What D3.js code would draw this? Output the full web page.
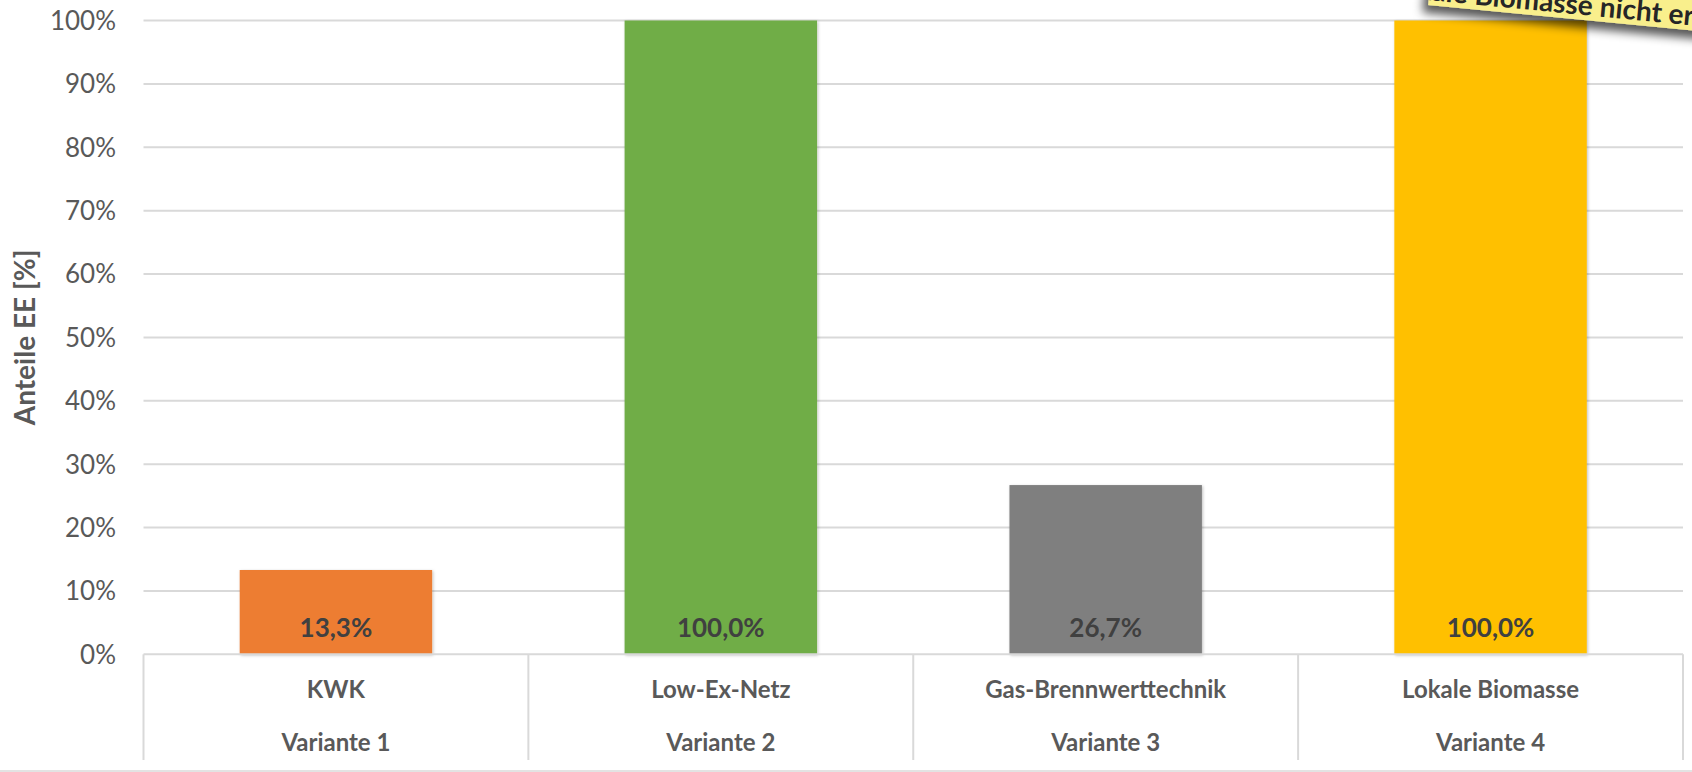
<!DOCTYPE html>
<html>
<head>
<meta charset="utf-8">
<script src="https://cdn.jsdelivr.net/npm/d3@7"></script>
<style>
  body { margin: 0; background: #fff; }
  svg { display: block; font-family: Lato, "Open Sans", sans-serif; }
</style>
</head>
<body>
<div id="chart"></div>
<script>
var width = 1692,
    height = 772;

// data
var categories = ["KWK", "Low-Ex-Netz", "Gas-Brennwerttechnik", "Lokale Biomasse"];
var variants = ["Variante 1", "Variante 2", "Variante 3", "Variante 4"];
var shares = [0.133, 1.0, 0.267, 1.0];
var colors = ["#ED7D31", "#70AD47", "#7F7F7F", "#FFC000"];
var ticks = [0, 0.1, 0.2, 0.3, 0.4, 0.5, 0.6, 0.7, 0.8, 0.9, 1.0];

var svg = d3.select("#chart").append("svg")
    .attr("width", width)
    .attr("height", height);

var defs = svg.append("defs");
defs.append("filter").attr("id", "barShadow")
    .attr("x", "-10%").attr("y", "-10%").attr("width", "120%").attr("height", "120%")
  .append("feDropShadow")
    .attr("dx", 1).attr("dy", 1).attr("stdDeviation", 1.5)
    .attr("flood-color", "#000").attr("flood-opacity", 0.25);
defs.append("filter").attr("id", "noteShadow")
    .attr("x", "-20%").attr("y", "-50%").attr("width", "140%").attr("height", "200%")
  .append("feDropShadow")
    .attr("dx", -5).attr("dy", 8).attr("stdDeviation", 5)
    .attr("flood-color", "#000").attr("flood-opacity", 0.65);

var x = d3.scaleBand()
    .domain(categories)
    .range([143.5, 1683]);

var y = d3.scaleLinear()
    .domain([0, 1])
    .range([654.3, 20.5]);

var fmtTick = d3.format(".0%");
var fmtVal = function(v) { return (v * 100).toFixed(1).replace(".", ",") + "%"; };

// gridlines
svg.append("g").selectAll("line")
  .data(ticks.slice(1))
  .enter().append("line")
    .attr("x1", x.range()[0])
    .attr("x2", x.range()[1])
    .attr("y1", function(d) { return y(d); })
    .attr("y2", function(d) { return y(d); })
    .attr("stroke", "#d9d9d9")
    .attr("stroke-width", 2);

// y tick labels
svg.append("g").selectAll("text")
  .data(ticks)
  .enter().append("text")
    .attr("x", 116)
    .attr("y", function(d) { return y(d); })
    .attr("dy", "0.36em")
    .attr("text-anchor", "end")
    .attr("font-size", 26)
    .attr("fill", "#595959")
    .text(fmtTick);

// axis title
svg.append("text")
    .attr("transform", "translate(35," + ((y(0) + y(1)) / 2) + ") rotate(-90)")
    .attr("text-anchor", "middle")
    .attr("font-size", 28)
    .attr("font-weight", "bold")
    .attr("fill", "#595959")
    .text("Anteile EE [%]");

// bars
var bw = x.bandwidth() * 0.5;
svg.append("g").selectAll("rect")
  .data(shares)
  .enter().append("rect")
    .attr("x", function(d, i) { return x(categories[i]) + (x.bandwidth() - bw) / 2; })
    .attr("y", function(d) { return y(d); })
    .attr("width", bw)
    .attr("height", function(d) { return y(0) - y(d); })
    .attr("fill", function(d, i) { return colors[i]; })
    .attr("filter", "url(#barShadow)");

// value labels
svg.append("g").selectAll("text")
  .data(shares)
  .enter().append("text")
    .attr("x", function(d, i) { return x(categories[i]) + x.bandwidth() / 2; })
    .attr("y", y(0) - 17)
    .attr("text-anchor", "middle")
    .attr("font-size", 26)
    .attr("font-weight", "bold")
    .attr("fill", "#404040")
    .text(fmtVal);

// category table below axis
var boxBottom = 760;
svg.append("line")
    .attr("x1", x.range()[0]).attr("x2", x.range()[1])
    .attr("y1", y(0)).attr("y2", y(0))
    .attr("stroke", "#d9d9d9").attr("stroke-width", 2);

var bounds = categories.map(function(c) { return x(c); }).concat([x.range()[1]]);
svg.append("g").selectAll("line")
  .data(bounds)
  .enter().append("line")
    .attr("x1", function(d) { return d; })
    .attr("x2", function(d) { return d; })
    .attr("y1", y(0))
    .attr("y2", boxBottom)
    .attr("stroke", "#d9d9d9")
    .attr("stroke-width", 2);

svg.append("g").selectAll("text")
  .data(categories)
  .enter().append("text")
    .attr("x", function(d) { return x(d) + x.bandwidth() / 2; })
    .attr("y", 698)
    .attr("text-anchor", "middle")
    .attr("font-size", 24)
    .attr("font-weight", "bold")
    .attr("fill", "#595959")
    .text(function(d) { return d; });

svg.append("g").selectAll("text")
  .data(variants)
  .enter().append("text")
    .attr("x", function(d, i) { return x(categories[i]) + x.bandwidth() / 2; })
    .attr("y", 751)
    .attr("text-anchor", "middle")
    .attr("font-size", 24)
    .attr("font-weight", "bold")
    .attr("fill", "#595959")
    .text(function(d) { return d; });

// bottom page edge
svg.append("line")
    .attr("x1", 0).attr("x2", width)
    .attr("y1", 771).attr("y2", 771)
    .attr("stroke", "#e3e3e3").attr("stroke-width", 2);

// sticky note in the top right corner, mostly outside the frame
var note = svg.append("g")
    .attr("transform", "translate(1480,10) rotate(5.5)");
note.append("rect")
    .attr("x", -52).attr("y", -160)
    .attr("width", 420).attr("height", 160)
    .attr("fill", "#f9ef8c")
    .attr("filter", "url(#noteShadow)");
note.append("text")
    .attr("x", 112).attr("y", -5)
    .attr("text-anchor", "end")
    .attr("font-size", 28)
    .attr("font-weight", "bold")
    .attr("fill", "#262626")
    .text("Lokale Biomasse");
note.append("text")
    .attr("x", 119).attr("y", -5)
    .attr("font-size", 28)
    .attr("font-weight", "bold")
    .attr("fill", "#262626")
    .text("nicht erreichbar");
</script>
</body>
</html>
